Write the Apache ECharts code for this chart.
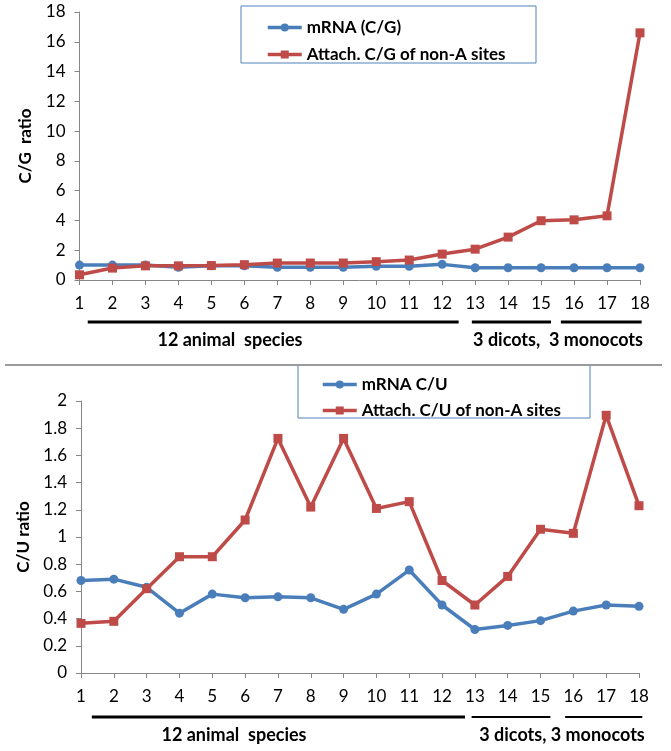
<!DOCTYPE html>
<html>
<head>
<meta charset="utf-8">
<script src="https://cdn.jsdelivr.net/npm/echarts@6/dist/echarts.min.js"></script>
<style>
html,body{margin:0;padding:0;background:#fff;}
#c{width:671px;height:751px;}
</style>
</head>
<body>
<div id="c"></div>
<script>
// ---- data ----
var categories = ['1','2','3','4','5','6','7','8','9','10','11','12','13','14','15','16','17','18'];
var topSeriesNames = ['mRNA (C/G)', 'Attach. C/G of non-A sites'];
var mrnaCG = [1.0,1.0,1.0,0.86,0.95,0.95,0.86,0.86,0.86,0.92,0.92,1.05,0.82,0.82,0.82,0.82,0.82,0.82];
var attachCG = [0.35,0.8,0.95,0.95,0.97,1.03,1.14,1.14,1.14,1.23,1.34,1.74,2.07,2.88,3.98,4.04,4.31,16.6];
var bottomSeriesNames = ['mRNA C/U', 'Attach. C/U of non-A sites'];
var mrnaCU = [0.68,0.69,0.63,0.44,0.58,0.553,0.56,0.553,0.468,0.58,0.757,0.5,0.32,0.35,0.385,0.455,0.5,0.49];
var attachCU = [0.365,0.38,0.62,0.855,0.855,1.125,1.725,1.22,1.725,1.21,1.26,0.68,0.5,0.71,1.057,1.027,1.895,1.23];
var topYTitle = 'C/G  ratio';
var bottomYTitle = 'C/U ratio';
var topGroupLabels = ['12 animal  species', '3 dicots,  3 monocots'];
var bottomGroupLabels = ['12 animal  species', '3 dicots, 3 monocots'];

var FONT = 'Lato';
var BLUE = '#4A7EBB';
var RED = '#BE4B48';
var AXIS = '#868686';

var chart = echarts.init(document.getElementById('c'), null, {renderer: 'canvas'});

var G1 = {left: 79.5, right: 31, top: 12, height: 268};
var G2 = {left: 81, right: 32, top: 401, height: 272};

function xAx(idx) {
  return {
    type: 'category', gridIndex: idx, data: categories, boundaryGap: false,
    axisLine: {lineStyle: {color: AXIS, width: 1}},
    axisTick: {alignWithLabel: true, length: 5, lineStyle: {color: AXIS}},
    axisLabel: {color: '#000', fontFamily: FONT, fontSize: 17, margin: 15, interval: 0}
  };
}
function yAx(idx, max, interval, name, gap, dec) {
  return {
    type: 'value', gridIndex: idx, min: 0, max: max, interval: interval,
    name: name, nameLocation: 'middle', nameRotate: 90, nameGap: gap,
    nameTextStyle: {color: '#000', fontFamily: FONT, fontSize: 17, fontWeight: 'bold'},
    splitLine: {show: false},
    axisLine: {show: true, lineStyle: {color: AXIS, width: 1}},
    axisTick: {show: true, length: 5, lineStyle: {color: AXIS}},
    axisLabel: {color: '#000', fontFamily: FONT, fontSize: 17, margin: 14,
      formatter: function (v) { return dec ? String(Math.round(v * 10) / 10) : String(v); }}
  };
}
function lineSeries(name, data, xi, color, symbol) {
  return {
    type: 'line', name: name, data: data, xAxisIndex: xi, yAxisIndex: xi,
    symbol: symbol, symbolSize: 9, showAllSymbol: true,
    lineStyle: {color: color, width: 3.5},
    itemStyle: {color: color},
    emphasis: {disabled: true},
    animation: false
  };
}

function px(g, i) { // pixel x for fractional category index
  var step = (671 - g.left - g.right) / (categories.length - 1);
  return g.left + i * step;
}
function bar(g, a, b, y, h) {
  return {type: 'rect', shape: {x: px(g, a), y: y - h / 2, width: px(g, b) - px(g, a), height: h},
    style: {fill: '#000'}, silent: true};
}
function label(text, x, y) {
  return {type: 'text', x: x, y: y, style: {text: text, fontFamily: FONT, fontSize: 18,
    fontWeight: 'bold', fill: '#000', align: 'center', verticalAlign: 'middle'}, silent: true};
}
var legendCommon = {orient: 'vertical', itemWidth: 34, itemHeight: 10,
  lineStyle: {width: 3.5}, itemStyle: {borderWidth: 0},
  textStyle: {fontFamily: FONT, fontSize: 17, fontWeight: 'bold', color: '#000'}};

chart.setOption({
  animation: false,
  backgroundColor: '#fff',
  grid: [G1, G2],
  xAxis: [xAx(0), xAx(1)],
  yAxis: [yAx(0, 18, 2, topYTitle, 45, false), yAx(1, 2, 0.2, bottomYTitle, 49, true)],
  legend: [
    Object.assign({data: topSeriesNames, left: 261, top: 14, itemGap: 10}, legendCommon),
    Object.assign({data: bottomSeriesNames, left: 316, top: 371, itemGap: 9}, legendCommon)
  ],
  series: [
    lineSeries(topSeriesNames[0], mrnaCG, 0, BLUE, 'circle'),
    lineSeries(topSeriesNames[1], attachCG, 0, RED, 'rect'),
    lineSeries(bottomSeriesNames[0], mrnaCU, 1, BLUE, 'circle'),
    lineSeries(bottomSeriesNames[1], attachCU, 1, RED, 'rect')
  ],
  graphic: [
    {type: 'rect', shape: {x: 241, y: 6, width: 295, height: 57}, style: {fill: 'none', stroke: '#4F81BD', lineWidth: 1}, silent: true, z: -1},
    {type: 'rect', shape: {x: 298, y: 365, width: 292, height: 53}, style: {fill: 'none', stroke: '#4F81BD', lineWidth: 1}, silent: true, z: -1},
    {type: 'line', shape: {x1: 5, y1: 365, x2: 662, y2: 365}, style: {stroke: '#9a9a9a', lineWidth: 2}, silent: true},
    bar(G1, 0.25, 11.5, 322, 3),
    bar(G1, 11.9, 14.3, 322, 3),
    bar(G1, 14.6, 17.05, 322, 3),
    label(topGroupLabels[0], 230, 340),
    label(topGroupLabels[1], 558, 340),
    bar(G2, 0.33, 11.7, 717, 3),
    bar(G2, 11.9, 14.3, 717, 2),
    bar(G2, 14.75, 17.1, 717, 2),
    label(bottomGroupLabels[0], 234, 735),
    label(bottomGroupLabels[1], 562, 735)
  ]
});
</script>
</body>
</html>
